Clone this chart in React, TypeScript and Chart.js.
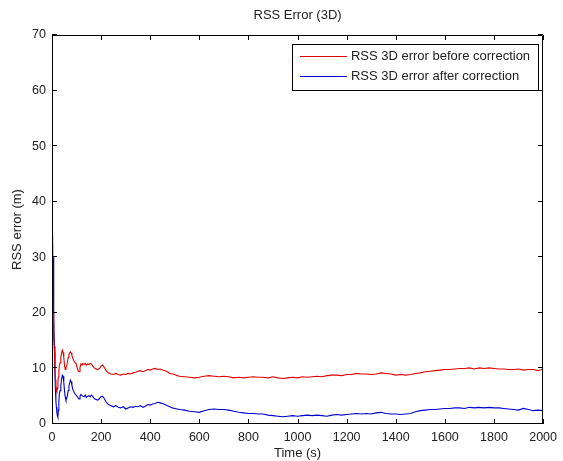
import React, { useEffect, useRef } from "react";
import { Chart, registerables } from "chart.js";

Chart.register(...registerables);

const TITLE = "RSS Error (3D)";
const X_LABEL = "Time (s)";
const Y_LABEL = "RSS error (m)";
const SERIES_NAMES = ["RSS 3D error before correction", "RSS 3D error after correction"];
const SERIES_COLORS = ["rgb(225,0,0)", "rgb(0,0,205)"];

const X_TICKS = [0, 200, 400, 600, 800, 1000, 1200, 1400, 1600, 1800, 2000];
const Y_TICKS = [0, 10, 20, 30, 40, 50, 60, 70];

const TIME = [
  0, 1, 2, 3, 4, 5, 6, 7, 8, 10, 12, 14, 16, 18, 20, 22, 24, 26, 28, 30, 33, 36, 39, 42, 45, 48, 51, 54, 57, 60,
  63, 66, 69, 72, 75, 78, 81, 84, 87, 90, 94, 98, 102, 106, 110, 114, 118, 122, 126, 130, 135, 140,
  145, 150, 155, 160, 165, 170, 175, 180, 185, 190, 195, 200, 205, 210, 215, 220, 225, 230, 240, 250,
  260, 270, 280, 290, 300, 310, 320, 330, 340, 350, 360, 370, 380, 390, 400, 410, 420, 430, 440, 450,
  460, 470, 480, 490, 500, 510, 520, 540, 560, 580, 600, 620, 640, 660, 680, 700, 720, 740, 760, 780,
  800, 820, 840, 860, 880, 900, 920, 940, 960, 980, 1000, 1020, 1040, 1060, 1080, 1100, 1120, 1140,
  1160, 1180, 1200, 1220, 1240, 1260, 1280, 1300, 1320, 1340, 1360, 1380, 1400, 1420, 1440, 1460,
  1480, 1500, 1520, 1540, 1560, 1580, 1600, 1620, 1640, 1660, 1680, 1700, 1720, 1740, 1760, 1780,
  1800, 1820, 1840, 1860, 1880, 1900, 1920, 1940, 1960, 1980, 2000,
];

const BEFORE = [
  22, 20, 24, 19, 22, 18, 20, 16.5, 15.5, 13, 10, 8, 7, 6, 5.8, 6.5, 7.5, 8.5, 9.5, 10.5, 11, 12, 12.8, 13.3, 12.9, 12,
  10.5, 9.8, 10.2, 10.5, 11.2, 12, 12.5, 12.8, 13.0, 12.8, 12.4, 11.9, 11.6, 11.3, 11.0, 10.9, 10.2,
  9.6, 9.4, 10.2, 10.8, 10.6, 10.9, 10.7, 10.9, 10.6, 10.8, 10.7, 10.9, 10.8, 10.5, 10.2, 10.0, 9.9,
  9.8, 9.9, 10.1, 10.4, 10.6, 10.4, 10.0, 9.6, 9.4, 9.2, 9.0, 8.9, 9.1, 8.9, 8.8, 9.0, 8.9, 9.1, 9.0,
  9.2, 9.3, 9.5, 9.6, 9.4, 9.6, 9.8, 9.7, 9.9, 10.0, 9.8, 9.9, 9.7, 9.6, 9.4, 9.1, 9.0, 8.9, 8.7, 8.6,
  8.5, 8.4, 8.3, 8.4, 8.6, 8.7, 8.6, 8.5, 8.6, 8.5, 8.3, 8.4, 8.3, 8.4, 8.5, 8.4, 8.4, 8.3, 8.5, 8.3,
  8.2, 8.3, 8.4, 8.3, 8.5, 8.4, 8.5, 8.6, 8.5, 8.7, 8.8, 8.8, 8.7, 8.9, 8.9, 9.1, 9.0, 9.0, 8.9, 9.0,
  9.2, 9.1, 9.0, 8.8, 8.9, 8.8, 8.9, 9.1, 9.2, 9.4, 9.5, 9.6, 9.7, 9.8, 9.8, 9.9, 10.0, 10.0, 10.1,
  9.9, 10.1, 10.0, 10.1, 10.0, 9.9, 9.9, 9.8, 9.8, 9.9, 9.7, 9.8, 9.8, 9.6, 9.9,
];

const AFTER = [
  20, 22, 34, 21, 33, 24, 30, 20, 19, 14, 9, 6, 4, 3, 2, 1.5, 1.2, 2.5, 4, 5.5, 6, 7, 8, 8.8, 8.6, 7.5, 6, 4.8, 4.3,
  4.6, 5.2, 6, 6.8, 7.4, 7.9, 7.6, 7, 6.4, 6, 5.7, 5.4, 5.2, 5.0, 4.7, 4.5, 5.0, 5.3, 5.1, 5.0, 4.9,
  5.2, 4.8, 5.0, 5.1, 4.9, 5.2, 5.0, 4.7, 4.5, 4.4, 4.3, 4.4, 4.7, 4.9, 5.0, 4.8, 4.4, 4.0, 3.7, 3.5,
  3.3, 3.1, 3.3, 3.0, 2.9, 3.1, 2.7, 2.9, 3.1, 3.0, 3.2, 3.1, 3.3, 3.0, 3.2, 3.5, 3.4, 3.6, 3.7, 3.9,
  3.8, 3.7, 3.5, 3.3, 3.1, 2.9, 2.8, 2.7, 2.6, 2.5, 2.3, 2.2, 2.1, 2.4, 2.6, 2.7, 2.6, 2.6, 2.5, 2.3,
  2.1, 2.0, 1.9, 1.9, 1.8, 1.8, 1.6, 1.5, 1.4, 1.3, 1.4, 1.5, 1.4, 1.5, 1.6, 1.5, 1.6, 1.5, 1.4, 1.6,
  1.7, 1.6, 1.7, 1.8, 1.9, 1.8, 1.9, 1.8, 2.0, 2.1, 1.9, 1.8, 1.8, 1.7, 1.8, 1.9, 2.2, 2.4, 2.5, 2.6,
  2.6, 2.7, 2.8, 2.8, 2.9, 2.9, 2.8, 3.0, 2.9, 3.0, 2.9, 3.0, 2.9, 2.9, 2.8, 2.7, 2.6, 2.5, 2.8, 2.6,
  2.4, 2.5, 2.4,
];

const FONT = '"Liberation Sans", Arial, Helvetica, sans-serif';
const TEXT_COLOR = "#222";

const framePlugin = {
  id: "matlabFrame",
  afterDatasetsDraw(chart: any) {
    const { ctx, chartArea: a, scales } = chart;
    const xs = scales.x;
    const ys = scales.y;
    ctx.save();
    ctx.strokeStyle = "#000";
    ctx.lineWidth = 1;
    ctx.beginPath();
    ctx.rect(Math.round(a.left) + 0.5, Math.round(a.top) + 0.5, Math.round(a.right - a.left) - 1, Math.round(a.bottom - a.top) - 1);
    ctx.stroke();
    const tl = 5;
    ctx.beginPath();
    X_TICKS.forEach((v) => {
      const px = Math.round(xs.getPixelForValue(v)) + 0.5;
      ctx.moveTo(px, a.bottom);
      ctx.lineTo(px, a.bottom - tl);
      ctx.moveTo(px, a.top);
      ctx.lineTo(px, a.top + tl);
    });
    Y_TICKS.forEach((v) => {
      const py = Math.round(ys.getPixelForValue(v)) - 0.5;
      ctx.moveTo(a.left, py);
      ctx.lineTo(a.left + tl, py);
      ctx.moveTo(a.right, py);
      ctx.lineTo(a.right - tl, py);
    });
    ctx.stroke();
    ctx.restore();
  },
  afterDraw(chart: any) {
    const { ctx, chartArea: a } = chart;
    ctx.save();
    ctx.fillStyle = TEXT_COLOR;
    ctx.font = `13px ${FONT}`;
    ctx.textAlign = "center";
    ctx.textBaseline = "middle";
    ctx.fillText(TITLE, (a.left + a.right) / 2, 15);
    ctx.font = `13px ${FONT}`;
    const textW = Math.max(...SERIES_NAMES.map((n) => ctx.measureText(n).width));
    const padL = 8, lineLen = 47, gap = 4, padR = 8;
    const boxW = padL + lineLen + gap + textW + padR;
    const boxH = 46;
    const right = a.right - 5;
    const top = a.top + 9;
    const left = right - boxW;
    ctx.fillStyle = "#fff";
    ctx.fillRect(left, top, boxW, boxH);
    ctx.strokeStyle = "#000";
    ctx.lineWidth = 1;
    ctx.strokeRect(Math.round(left) + 0.5, top + 0.5, Math.round(boxW), boxH);
    SERIES_NAMES.forEach((name, i) => {
      const y = top + 12 + i * 20;
      ctx.strokeStyle = SERIES_COLORS[i];
      ctx.beginPath();
      ctx.moveTo(left + padL, y + 0.5);
      ctx.lineTo(left + padL + lineLen, y + 0.5);
      ctx.stroke();
      ctx.fillStyle = TEXT_COLOR;
      ctx.textAlign = "left";
      ctx.textBaseline = "middle";
      ctx.fillText(name, left + padL + lineLen + gap, y);
    });
    ctx.restore();
  },
};

export default function App() {
  const ref = useRef<HTMLCanvasElement | null>(null);
  useEffect(() => {
    if (!ref.current) return;
    const mk = (vals: number[]) => TIME.map((t, i) => ({ x: t, y: vals[i] }));
    const chart = new Chart(ref.current, {
      type: "line",
      data: {
        datasets: [
          { label: SERIES_NAMES[0], data: mk(BEFORE), borderColor: SERIES_COLORS[0], borderWidth: 1.1, pointRadius: 0, tension: 0, fill: false },
          { label: SERIES_NAMES[1], data: mk(AFTER), borderColor: SERIES_COLORS[1], borderWidth: 1.1, pointRadius: 0, tension: 0, fill: false },
        ],
      },
      options: {
        responsive: false,
        animation: false,
        events: [],
        layout: { padding: { left: 0, top: 35, right: 17, bottom: 0 } },
        plugins: { legend: { display: false }, tooltip: { enabled: false }, title: { display: false } },
        scales: {
          x: {
            type: "linear",
            min: 0,
            max: 2000,
            afterBuildTicks: (s: any) => { s.ticks = X_TICKS.map((v) => ({ value: v })); },
            afterFit: (s: any) => { s.height = 37; },
            grid: { display: false, drawTicks: false },
            border: { display: false },
            ticks: { color: TEXT_COLOR, font: { family: FONT, size: 12.5 }, padding: 6, maxRotation: 0, autoSkip: false, callback: (v: any) => String(v) },
            title: { display: true, text: X_LABEL, color: TEXT_COLOR, font: { family: FONT, size: 13, lineHeight: 1.2 }, padding: { top: 0, bottom: 0 } },
          },
          y: {
            type: "linear",
            min: 0,
            max: 70,
            afterBuildTicks: (s: any) => { s.ticks = Y_TICKS.map((v) => ({ value: v })); },
            afterFit: (s: any) => { s.width = 52; },
            grid: { display: false, drawTicks: false },
            border: { display: false },
            ticks: { color: TEXT_COLOR, font: { family: FONT, size: 12.5 }, padding: 6, autoSkip: false, callback: (v: any) => String(v) },
            title: { display: true, text: Y_LABEL, color: TEXT_COLOR, font: { family: FONT, size: 13, lineHeight: 1.2 }, padding: { top: 10, bottom: 0 } },
          },
        },
      },
      plugins: [framePlugin],
    });
    return () => chart.destroy();
  }, []);
  return (
    <div style={{ position: "fixed", left: 0, top: 0, width: 563, height: 461, background: "#fff" }}>
      <canvas ref={ref} width={563} height={461} style={{ display: "block" }} />
    </div>
  );
}
